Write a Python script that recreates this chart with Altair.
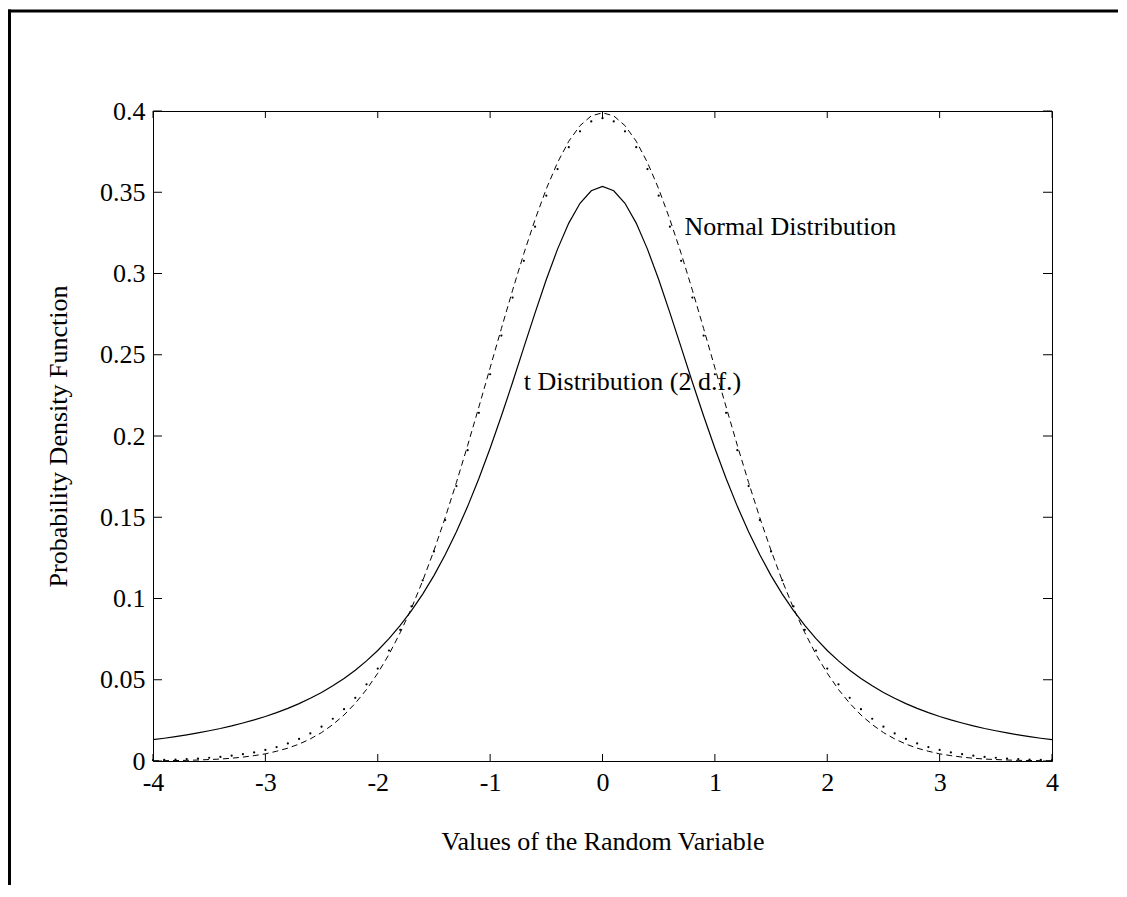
import altair as alt
import pandas as pd

# ---- data ----
x_vals = [-4.0, -3.9, -3.8, -3.7, -3.6, -3.5, -3.4, -3.3, -3.2, -3.1,
          -3.0, -2.9, -2.8, -2.7, -2.6, -2.5, -2.4, -2.3, -2.2, -2.1,
          -2.0, -1.9, -1.8, -1.7, -1.6, -1.5, -1.4, -1.3, -1.2, -1.1,
          -1.0, -0.9, -0.8, -0.7, -0.6, -0.5, -0.4, -0.3, -0.2, -0.1,
          0.0, 0.1, 0.2, 0.3, 0.4, 0.5, 0.6, 0.7, 0.8, 0.9,
          1.0, 1.1, 1.2, 1.3, 1.4, 1.5, 1.6, 1.7, 1.8, 1.9,
          2.0, 2.1, 2.2, 2.3, 2.4, 2.5, 2.6, 2.7, 2.8, 2.9,
          3.0, 3.1, 3.2, 3.3, 3.4, 3.5, 3.6, 3.7, 3.8, 3.9, 4.0]

normal_pdf = [0.0001, 0.0002, 0.0003, 0.0004, 0.0006, 0.0009, 0.0012, 0.0017, 0.0024, 0.0033,
              0.0044, 0.0060, 0.0079, 0.0104, 0.0136, 0.0175, 0.0224, 0.0283, 0.0355, 0.0440,
              0.0540, 0.0656, 0.0790, 0.0940, 0.1109, 0.1295, 0.1497, 0.1714, 0.1942, 0.2179,
              0.2420, 0.2661, 0.2897, 0.3123, 0.3332, 0.3521, 0.3683, 0.3814, 0.3910, 0.3970,
              0.3989, 0.3970, 0.3910, 0.3814, 0.3683, 0.3521, 0.3332, 0.3123, 0.2897, 0.2661,
              0.2420, 0.2179, 0.1942, 0.1714, 0.1497, 0.1295, 0.1109, 0.0940, 0.0790, 0.0656,
              0.0540, 0.0440, 0.0355, 0.0283, 0.0224, 0.0175, 0.0136, 0.0104, 0.0079, 0.0060,
              0.0044, 0.0033, 0.0024, 0.0017, 0.0012, 0.0009, 0.0006, 0.0004, 0.0003, 0.0002, 0.0001]

t2_pdf = [0.0131, 0.0140, 0.0150, 0.0161, 0.0173, 0.0186, 0.0200, 0.0216, 0.0234, 0.0253,
          0.0274, 0.0298, 0.0324, 0.0353, 0.0386, 0.0422, 0.0463, 0.0508, 0.0559, 0.0616,
          0.0680, 0.0753, 0.0834, 0.0925, 0.1027, 0.1141, 0.1269, 0.1411, 0.1567, 0.1739,
          0.1925, 0.2123, 0.2331, 0.2545, 0.2758, 0.2963, 0.3150, 0.3310, 0.3432, 0.3509,
          0.3536, 0.3509, 0.3432, 0.3310, 0.3150, 0.2963, 0.2758, 0.2545, 0.2331, 0.2123,
          0.1925, 0.1739, 0.1567, 0.1411, 0.1269, 0.1141, 0.1027, 0.0925, 0.0834, 0.0753,
          0.0680, 0.0616, 0.0559, 0.0508, 0.0463, 0.0422, 0.0386, 0.0353, 0.0324, 0.0298,
          0.0274, 0.0253, 0.0234, 0.0216, 0.0200, 0.0186, 0.0173, 0.0161, 0.0150, 0.0140, 0.0131]

dotted_pdf = [0.0005, 0.0007, 0.0009, 0.0012, 0.0015, 0.0020, 0.0025, 0.0033, 0.0042, 0.0053,
              0.0068, 0.0086, 0.0108, 0.0136, 0.0170, 0.0211, 0.0260, 0.0319, 0.0389, 0.0472,
              0.0569, 0.0680, 0.0807, 0.0952, 0.1112, 0.1290, 0.1483, 0.1692, 0.1913, 0.2143,
              0.2380, 0.2618, 0.2852, 0.3078, 0.3288, 0.3479, 0.3643, 0.3777, 0.3875, 0.3936,
              0.3956, 0.3936, 0.3875, 0.3777, 0.3643, 0.3479, 0.3288, 0.3078, 0.2852, 0.2618,
              0.2380, 0.2143, 0.1913, 0.1692, 0.1483, 0.1290, 0.1112, 0.0952, 0.0807, 0.0680,
              0.0569, 0.0472, 0.0389, 0.0319, 0.0260, 0.0211, 0.0170, 0.0136, 0.0108, 0.0086,
              0.0068, 0.0053, 0.0042, 0.0033, 0.0025, 0.0020, 0.0015, 0.0012, 0.0009, 0.0007, 0.0005]

x_ticks = [-4, -3, -2, -1, 0, 1, 2, 3, 4]
y_ticks = [0, 0.05, 0.1, 0.15, 0.2, 0.25, 0.3, 0.35, 0.4]

label_x = [0.73, -0.70]
label_y = [0.3235, 0.2281]
label_text = ["Normal Distribution", "t Distribution (2 d.f.)"]

FONT = "Liberation Serif"
W, H = 899, 650
PAD_L, PAD_T, PAD_R, PAD_B = 145, 103, 66, 124

df = pd.DataFrame({"x": x_vals, "normal": normal_pdf, "t2": t2_pdf, "dotted": dotted_pdf})
xt = pd.DataFrame({"v": x_ticks})
yt = pd.DataFrame({"v": y_ticks})
labels = pd.DataFrame({"x": label_x, "y": label_y, "text": label_text})
one = pd.DataFrame({"k": [0]})

xscale = alt.Scale(domain=[-4, 4], nice=False, zero=False)
yscale = alt.Scale(domain=[0, 0.4], nice=False, zero=False)

common_axis = dict(
    ticks=False, tickSize=0, domain=False, grid=False,
    labelFont=FONT, labelFontSize=26, labelColor="black",
    labelOverlap=False, labelFlush=False,
    labelExpr="'' + datum.value",
    titleFont=FONT, titleFontSize=26, titleFontWeight="normal", titleColor="black",
)

xaxis = alt.Axis(values=x_ticks, labelPadding=8, title="Values of the Random Variable",
                 titlePadding=33, **common_axis)
yaxis = alt.Axis(values=y_ticks, labelPadding=8, title="Probability Density Function",
                 titlePadding=28, **common_axis)

base = alt.Chart(df)

normal_line = base.mark_line(color="black", strokeWidth=1, strokeDash=[6, 4]).encode(
    x=alt.X("x:Q", scale=xscale, axis=xaxis),
    y=alt.Y("normal:Q", scale=yscale, axis=yaxis),
)
t2_line = base.mark_line(color="black", strokeWidth=1.2).encode(
    x=alt.X("x:Q", scale=xscale),
    y=alt.Y("t2:Q", scale=yscale),
)
dots = base.mark_point(filled=True, color="black", size=5, opacity=1).encode(
    x=alt.X("x:Q", scale=xscale),
    y=alt.Y("dotted:Q", scale=yscale),
)

tick_bottom = alt.Chart(xt).mark_rule(color="black", strokeWidth=1).encode(
    x=alt.X("v:Q", scale=xscale), y=alt.value(H), y2=alt.value(H - 7))
tick_top = alt.Chart(xt).mark_rule(color="black", strokeWidth=1).encode(
    x=alt.X("v:Q", scale=xscale), y=alt.value(0), y2=alt.value(7))
tick_left = alt.Chart(yt).mark_rule(color="black", strokeWidth=1).encode(
    y=alt.Y("v:Q", scale=yscale), x=alt.value(0), x2=alt.value(9))
tick_right = alt.Chart(yt).mark_rule(color="black", strokeWidth=1).encode(
    y=alt.Y("v:Q", scale=yscale), x=alt.value(W), x2=alt.value(W - 9))

text = alt.Chart(labels).mark_text(
    align="left", baseline="alphabetic", font=FONT, fontSize=26, color="black"
).encode(x=alt.X("x:Q", scale=xscale), y=alt.Y("y:Q", scale=yscale), text="text:N")

# outer figure frame (top and left edges)
frame_top = alt.Chart(one).mark_rule(color="black", strokeWidth=3).encode(
    x=alt.value(-PAD_L), x2=alt.value(W + PAD_R), y=alt.value(-100))
frame_left = alt.Chart(one).mark_rule(color="black", strokeWidth=3).encode(
    x=alt.value(-143.5), y=alt.value(-101.5), y2=alt.value(H + PAD_B))

chart = alt.layer(
    normal_line, t2_line, dots, tick_bottom, tick_top, tick_left, tick_right, text,
    frame_top, frame_left,
).properties(
    width=W, height=H,
    autosize=alt.AutoSizeParams(type="none"),
    padding={"left": PAD_L, "top": PAD_T, "right": PAD_R, "bottom": PAD_B},
    background="white",
).configure_view(
    stroke="black", strokeWidth=1, fill="white"
)

chart.save("out.html", embed_options={"renderer": "svg", "actions": False})
